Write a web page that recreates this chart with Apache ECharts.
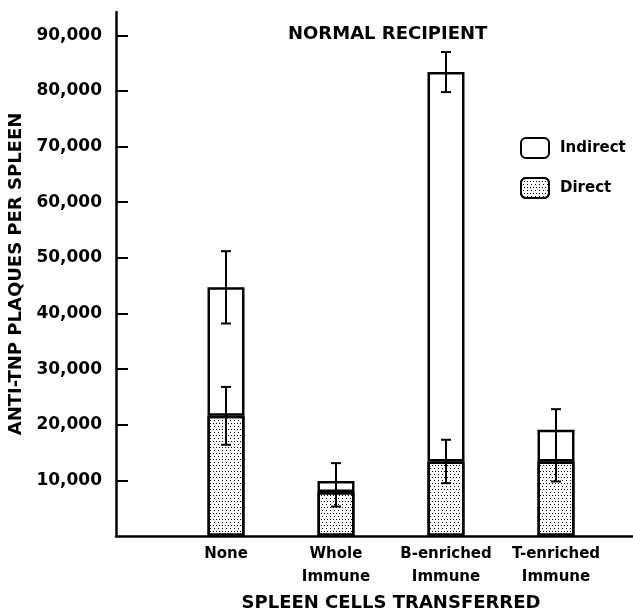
<!DOCTYPE html>
<html>
<head>
<meta charset="utf-8">
<script src="https://cdn.jsdelivr.net/npm/echarts@6/dist/echarts.min.js"></script>
<style>
  html, body { margin: 0; padding: 0; background: #fff; }
  #chart { width: 633px; height: 611px; }
</style>
</head>
<body>
<div id="chart"></div>
<script>
// groups of transferred cells
const categories = ['None', 'Whole\nImmune', 'B-enriched\nImmune', 'T-enriched\nImmune'];
// plaque counts
const directValues = [21600, 7900, 13400, 13400];
const indirectValues = [23100, 2000, 70000, 5700];
// half-heights of the error bars
const directErr = [5200, 2600, 3900, 3600];
const totalErr = [6500, 3200, 3600, 3700];
// where the two bars overlap the inner caps are not drawn
const innerCaps = [true, false, true, false];
const yTicks = [10000, 20000, 30000, 40000, 50000, 60000, 70000, 80000, 90000];

const FONT = 'DejaVu Sans';

// empty slots at both ends keep the bars where they sit in the figure
const xCats = [''].concat(categories, ['']);
const pad = arr => [null].concat(arr, [null]);

// [x, low, high, lowCap, highCap]
const directErrData = directValues.map((v, i) =>
    [i + 1, v - directErr[i], v + directErr[i], 1, innerCaps[i] ? 1 : 0]);
const totalErrData = directValues.map((v, i) => {
    const top = v + indirectValues[i];
    return [i + 1, top - totalErr[i], top + totalErr[i], innerCaps[i] ? 1 : 0, 1];
});

function renderErr(params, api) {
    const x = api.value(0);
    const lo = api.coord([x, api.value(1)]);
    const hi = api.coord([x, api.value(2)]);
    const w = 5;
    const style = { stroke: '#000', lineWidth: 2 };
    const kids = [{ type: 'line', shape: { x1: lo[0], y1: lo[1], x2: hi[0], y2: hi[1] }, style: style }];
    if (api.value(4)) kids.push({ type: 'line', shape: { x1: hi[0] - w, y1: hi[1], x2: hi[0] + w, y2: hi[1] }, style: style });
    if (api.value(3)) kids.push({ type: 'line', shape: { x1: lo[0] - w, y1: lo[1], x2: lo[0] + w, y2: lo[1] }, style: style });
    return { type: 'group', children: kids };
}

const chart = echarts.init(document.getElementById('chart'));
chart.setOption({
    animation: false,
    backgroundColor: '#fff',
    textStyle: { fontFamily: FONT, color: '#000' },
    title: {
        text: 'NORMAL RECIPIENT',
        left: 283,
        top: 20,
        textStyle: { fontFamily: FONT, fontSize: 18, fontWeight: 'bold', color: '#000' }
    },
    legend: {
        data: ['Indirect', 'Direct'],
        orient: 'vertical',
        left: 515,
        top: 132,
        icon: 'roundRect',
        itemWidth: 28,
        itemHeight: 20,
        itemGap: 18,
        textStyle: { fontFamily: FONT, fontSize: 15, fontWeight: 'bold', color: '#000', padding: [0, 0, 0, 6] }
    },
    grid: { left: 116, right: -33, top: 12, bottom: 75, containLabel: false, outerBoundsMode: 'none' },
    xAxis: {
        type: 'category',
        data: xCats,
        boundaryGap: false,
        axisLine: { lineStyle: { color: '#000', width: 2.5 } },
        axisTick: { show: false },
        axisLabel: {
            interval: 0,
            margin: 7,
            fontFamily: FONT,
            fontSize: 15,
            fontWeight: 'bold',
            color: '#000',
            lineHeight: 23
        },
        name: 'SPLEEN CELLS TRANSFERRED',
        nameLocation: 'middle',
        nameGap: 51,
        nameTextStyle: { fontFamily: FONT, fontSize: 18, fontWeight: 'bold', color: '#000' }
    },
    yAxis: {
        type: 'value',
        min: 0,
        max: 94200,
        interval: 10000,
        splitLine: { show: false },
        axisLine: { show: true, lineStyle: { color: '#000', width: 2.5 } },
        axisTick: { show: true, inside: true, length: 12, lineStyle: { color: '#000', width: 2 }, customValues: yTicks },
        axisLabel: {
            customValues: yTicks,
            margin: 14,
            fontFamily: FONT,
            fontSize: 17,
            fontWeight: 'bold',
            color: '#000',
            formatter: v => v.toLocaleString('en-US')
        },
        name: 'ANTI-TNP PLAQUES PER SPLEEN',
        nameLocation: 'middle',
        nameRotate: 90,
        nameGap: 84,
        nameTextStyle: { fontFamily: FONT, fontSize: 18, fontWeight: 'bold', color: '#000' }
    },
    series: [
        {
            name: 'Direct',
            type: 'bar',
            stack: 'total',
            barWidth: 37,
            data: pad(directValues),
            itemStyle: {
                color: '#fff',
                borderColor: '#000',
                borderWidth: 2.5,
                decal: {
                    symbol: 'rect',
                    symbolSize: 1,
                    color: '#000',
                    dashArrayX: [[1, 2], [0, 1.5, 1, 0.5]],
                    dashArrayY: [1, 1.5]
                }
            }
        },
        {
            name: 'Indirect',
            type: 'bar',
            stack: 'total',
            barWidth: 37,
            data: pad(indirectValues),
            itemStyle: { color: '#fff', borderColor: '#000', borderWidth: 2.5 }
        },
        {
            name: 'directErr',
            type: 'custom',
            renderItem: renderErr,
            data: directErrData,
            z: 5
        },
        {
            name: 'totalErr',
            type: 'custom',
            renderItem: renderErr,
            data: totalErrData,
            z: 5
        }
    ]
});
</script>
</body>
</html>
